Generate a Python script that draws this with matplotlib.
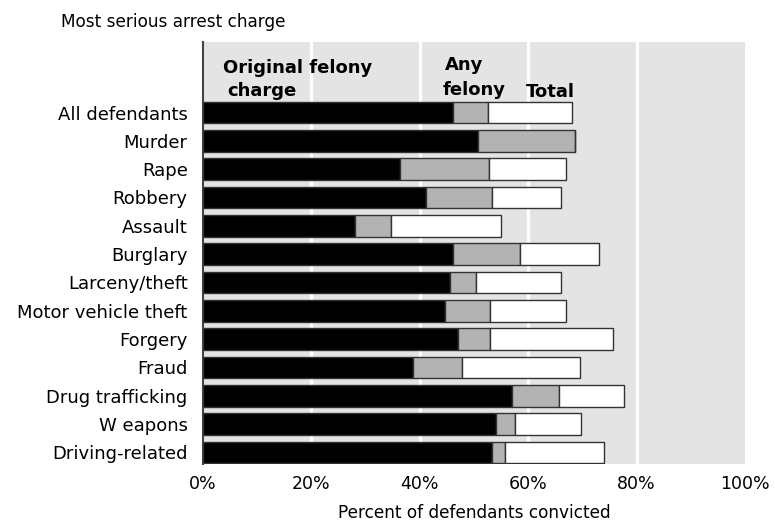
import matplotlib
matplotlib.use("Agg")
import matplotlib.pyplot as plt
import numpy as np

plt.rcParams['font.family'] = ['DejaVu Sans']

charges = ['All defendants', 'Murder', 'Rape', 'Robbery', 'Assault', 'Burglary',
           'Larceny/theft', 'Motor vehicle theft', 'Forgery', 'Fraud',
           'Drug trafficking', 'W eapons', 'Driving-related']
# percent convicted (cumulative levels)
original_felony = [46.2, 50.7, 36.3, 41.1, 28.0, 46.2, 45.5, 44.6, 47.1, 38.7, 57.1, 54.0, 53.3]
any_felony = [52.6, 68.7, 52.7, 53.3, 34.6, 58.4, 50.4, 53.0, 52.9, 47.7, 65.7, 57.5, 55.8]
total = [68.1, 68.7, 66.9, 66.1, 55.0, 73.0, 66.1, 67.0, 75.7, 69.5, 77.6, 69.7, 74.0]
xticks = [0, 20, 40, 60, 80, 100]
xtick_labels = ['0%', '20%', '40%', '60%', '80%', '100%']

fig = plt.figure(figsize=(7.75, 5.23), dpi=100)
ax = fig.add_axes([203 / 775, 1 - 464 / 523, 542 / 775, 422 / 523])
ax.set_facecolor('#e4e4e4')

y = np.arange(len(charges))
orig = np.array(original_felony)
anyf = np.array(any_felony)
tot = np.array(total)
h = 0.765
edge = '#333333'

ax.barh(y, orig, height=h, color='black', edgecolor=edge, linewidth=1, zorder=3)
ax.barh(y, anyf - orig, left=orig, height=h, color='#b3b3b3', edgecolor=edge, linewidth=1, zorder=3)
ax.barh(y, tot - anyf, left=anyf, height=h, color='white', edgecolor=edge, linewidth=1, zorder=3)

for gx in [20, 40, 60, 80]:
    ax.axvline(gx, color='white', linewidth=2.4, zorder=1)

ax.set_xlim(0, 100)
ax.set_ylim(12.41, -2.49)
ax.set_yticks(y)
ax.set_yticklabels(charges, fontsize=13)
ax.set_xticks(xticks)
ax.set_xticklabels(xtick_labels, fontsize=12.5)
ax.tick_params(axis='y', length=0, pad=11)
ax.tick_params(axis='x', length=0, pad=8)
ax.set_xlabel('Percent of defendants convicted', fontsize=12.2, labelpad=7.5)

for s in ['top', 'right', 'bottom']:
    ax.spines[s].set_visible(False)
ax.spines['left'].set_color('#444444')
ax.spines['left'].set_linewidth(1.5)

# series labels inside the plot
ax.text(3.7, -1.38, 'Original felony', fontsize=13, fontweight='bold', va='baseline', zorder=4)
ax.text(4.4, -0.58, 'charge', fontsize=13, fontweight='bold', va='baseline', zorder=4)
ax.text(44.6, -1.5, 'Any', fontsize=13, fontweight='bold', va='baseline', zorder=4)
ax.text(44.3, -0.62, 'felony', fontsize=13, fontweight='bold', va='baseline', zorder=4)
ax.text(59.6, -0.56, 'Total', fontsize=13, fontweight='bold', va='baseline', zorder=4)

fig.text(61 / 775, 1 - 22 / 523, 'Most serious arrest charge', fontsize=12.2, va='center')

fig.savefig('out.png', dpi=100)
